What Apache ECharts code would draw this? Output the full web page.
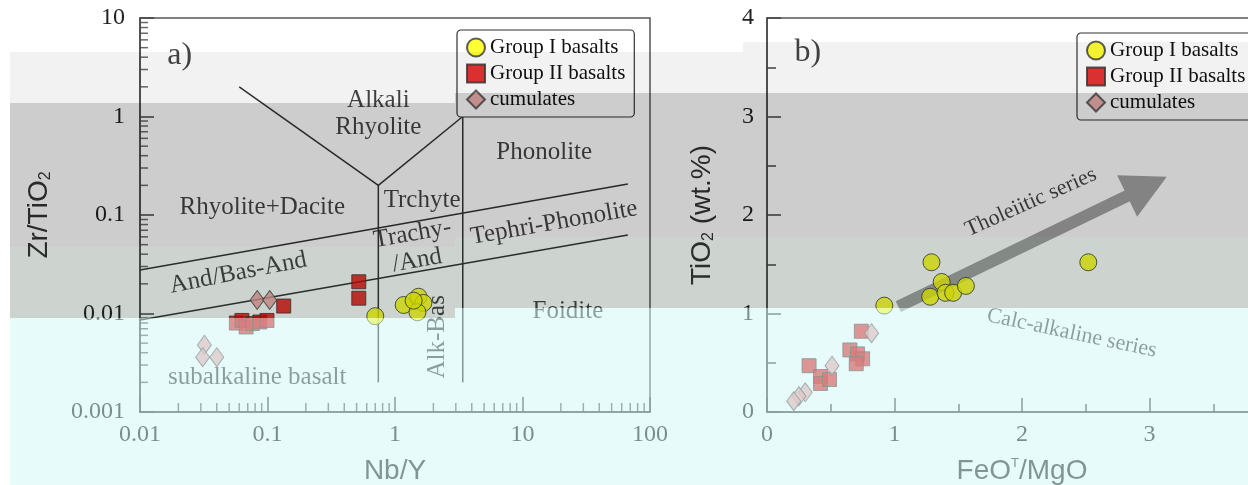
<!DOCTYPE html>
<html><head><meta charset="utf-8">
<script src="https://cdn.jsdelivr.net/npm/echarts@6/dist/echarts.min.js"></script>
<style>html,body{margin:0;padding:0;background:#fff}#c{width:1248px;height:485px}</style>
</head><body><div id="c"></div>
<script>
// ================= DATA =================
// Panel a: Zr/TiO2 vs Nb/Y (log-log)
const groupI_a_x  = [0.70, 1.17, 1.53, 1.67, 1.50, 1.40];
const groupI_a_y  = [0.0094, 0.0122, 0.0148, 0.0128, 0.0103, 0.0135];
const groupII_a_x = [0.52, 0.52, 0.134, 0.057, 0.063, 0.068, 0.076, 0.087, 0.099];
const groupII_a_y = [0.0210, 0.0143, 0.0119, 0.0080, 0.0085, 0.0073, 0.0079, 0.0082, 0.0085];
const cumul_a_x   = [0.083, 0.104, 0.032, 0.031, 0.040];
const cumul_a_y   = [0.0137, 0.0137, 0.0048, 0.0036, 0.0036];

// Panel b: TiO2 vs FeOT/MgO
const groupI_b_x  = [1.29, 1.37, 1.28, 1.40, 1.46, 1.56, 0.92, 2.52];
const groupI_b_y  = [1.52, 1.32, 1.17, 1.21, 1.21, 1.28, 1.08, 1.52];
const groupII_b_x = [0.74, 0.65, 0.71, 0.75, 0.70, 0.33, 0.42, 0.42, 0.49];
const groupII_b_y = [0.82, 0.63, 0.59, 0.54, 0.49, 0.47, 0.36, 0.29, 0.33];
const cumul_b_x   = [0.82, 0.51, 0.30, 0.25, 0.21];
const cumul_b_y   = [0.80, 0.47, 0.20, 0.16, 0.11];

// Field boundaries of panel a (segments, in Nb/Y , Zr/TiO2)
const fieldBoundaries = [
  [[0.01, 0.0277], [67, 0.206]],
  [[0.01, 0.0086], [67, 0.0627]],
  [[0.06, 2.0], [0.74, 0.20]],
  [[0.74, 0.20], [3.4, 1.0]],
  [[0.74, 0.20], [0.74, 0.002]],
  [[3.4, 1.0], [3.4, 0.002]]
];

// Field names panel a
const fieldText_a = ['a)', 'Alkali\nRhyolite', 'Rhyolite+Dacite', 'Trchyte', 'Phonolite', 'Trachy-\n/And',
                     'Tephri-Phonolite', 'And/Bas-And', 'subalkaline basalt', 'Alk-Bas', 'Foidite'];
const fieldText_a_x = [0.0205, 0.74, 0.091, 1.63, 14.8, 1.43, 17.7, 0.059, 0.083, 2.17, 22.7];
const fieldText_a_y = [4.2, 1.07, 0.118, 0.142, 0.436, 0.047, 0.083, 0.0258, 0.00226, 0.0058, 0.0104];

// Trend annotations panel b
const trendText_b   = ['b)', 'Tholeiitic series', 'Calc-alkaline series'];
const trendText_b_x = [0.32, 2.07, 2.39];
const trendText_b_y = [3.65, 2.13, 0.80];
const tholeiiticArrow = [[1.03, 1.07], [2.98, 2.29]];

// Axis ticks
const logDecadesX = [0.01, 0.1, 1, 10];
const logDecadesY = [0.001, 0.01, 0.1, 1];
const minorMultipliers = [2, 3, 4, 5, 6, 7, 8, 9];
const legendNames = ['Group I basalts', 'Group II basalts', 'cumulates'];

// ================= CHART =================
const SERIF = 'Liberation Serif, Times New Roman, serif';
const SANS = 'Liberation Sans, Arial, sans-serif';
const zip = (xs, ys) => xs.map((x, i) => [x, ys[i]]);
const minorVals = decs => { const o = []; decs.forEach(d => minorMultipliers.forEach(m => o.push(+(d * m).toPrecision(2)))); return o; };
const logFmt = v => String(parseFloat(Number(v).toPrecision(1)));
const rotation = {'Trachy-\n/And': 10, 'Tephri-Phonolite': 10, 'And/Bas-And': 11, 'Alk-Bas': 90,
                  'Tholeiitic series': 24, 'Calc-alkaline series': -12};
const fontSizeOf = {'a)': 32, 'b)': 32, 'Tholeiitic series': 22, 'Calc-alkaline series': 22};

const styleI  = {symbol: 'circle', symbolSize: 17, itemStyle: {color: '#ffff00', borderColor: '#333', borderWidth: 1}};
const styleII = {symbol: 'rect', symbolSize: 14, itemStyle: {color: '#e00000', borderColor: '#333', borderWidth: 1}};
const styleC  = {symbol: 'diamond', symbolSize: [14, 19], itemStyle: {color: '#ee9c9c', borderColor: '#444', borderWidth: 1}};

const axisLineStyle = {lineStyle: {color: '#444', width: 1.5}};
const tickLabel = (m) => ({margin: m, fontFamily: SERIF, fontSize: 24, color: '#222', showMinLabel: true, showMaxLabel: true});
const nameStyle = {fontFamily: SANS, fontSize: 28, color: '#333',
  rich: {sub: {fontFamily: SANS, fontSize: 16, verticalAlign: 'bottom', padding: [14, 0, 0, 0]},
         sup: {fontFamily: SANS, fontSize: 13, verticalAlign: 'top', padding: [0, 0, 14, 0]}}};

function textSeries(texts, xs, ys, xi, yi) {
  return {
    type: 'scatter', xAxisIndex: xi, yAxisIndex: yi, symbolSize: 0, silent: true, z: 5, clip: false,
    data: texts.map((t, i) => ({
      name: t, value: [xs[i], ys[i]],
      label: {show: true, position: 'inside', formatter: '{b}', rotate: rotation[t] || 0,
              fontFamily: SERIF, fontSize: fontSizeOf[t] || 25, lineHeight: 27, color: '#151515', align: 'center'}
    }))
  };
}

const series = [];
// field boundaries
fieldBoundaries.forEach(seg => series.push({type: 'line', xAxisIndex: 0, yAxisIndex: 0, data: seg, symbol: 'none',
  silent: true, lineStyle: {color: '#333', width: 1.5}, z: 1, animation: false}));
// minor ticks panel a (log axes)
series.push({type: 'scatter', xAxisIndex: 0, yAxisIndex: 0, silent: true, clip: false, symbol: 'rect',
  symbolSize: [8, 1.5], symbolOffset: [4, 0], itemStyle: {color: '#444'},
  data: minorVals(logDecadesY).map(v => [logDecadesX[0], v])});
series.push({type: 'scatter', xAxisIndex: 0, yAxisIndex: 0, silent: true, clip: false, symbol: 'rect',
  symbolSize: [1.5, 9], symbolOffset: [0, -4.5], itemStyle: {color: '#444'},
  data: minorVals(logDecadesX).map(v => [v, logDecadesY[0]])});
// arrow panel b
series.push({type: 'scatter', xAxisIndex: 1, yAxisIndex: 1, data: [], silent: true,
  markLine: {silent: true, animation: false, symbol: ['none', 'triangle'], symbolSize: [46, 44],
    lineStyle: {color: '#a3a3a3', width: 12, type: 'solid'}, label: {show: false},
    emphasis: {disabled: true},
    data: [[{coord: tholeiiticArrow[0]}, {coord: tholeiiticArrow[1]}]]}});
// text
series.push(textSeries(fieldText_a, fieldText_a_x, fieldText_a_y, 0, 0));
series.push(textSeries(trendText_b, trendText_b_x, trendText_b_y, 1, 1));
// data
[[0, groupII_a_x, groupII_a_y, cumul_a_x, cumul_a_y, groupI_a_x, groupI_a_y],
 [1, groupII_b_x, groupII_b_y, cumul_b_x, cumul_b_y, groupI_b_x, groupI_b_y]].forEach(p => {
  const g = p[0];
  series.push(Object.assign({type: 'scatter', name: legendNames[1], xAxisIndex: g, yAxisIndex: g, z: 6, data: zip(p[1], p[2])}, styleII));
  series.push(Object.assign({type: 'scatter', name: legendNames[2], xAxisIndex: g, yAxisIndex: g, z: 7, data: zip(p[3], p[4])}, styleC));
  series.push(Object.assign({type: 'scatter', name: legendNames[0], xAxisIndex: g, yAxisIndex: g, z: 8, data: zip(p[5], p[6])}, styleI));
});

// glitch-like colour bands of the reference (decorative overlays)
const bandFill = {light: 'rgba(0,0,0,0.05)', gray: 'rgba(0,0,0,0.195)', green: 'rgba(5,40,15,0.2)', cyan: 'rgba(210,248,248,0.5)'};
const bandRects = [[10, 455, 52, 103, 'light'], [10, 455, 103, 247, 'gray'], [10, 455, 247, 318, 'green'], [10, 455, 318, 485, 'cyan'],
  [455, 743, 52, 93, 'light'], [743, 1248, 42, 93, 'light'], [455, 1248, 93, 237, 'gray'], [455, 1248, 237, 308, 'green'], [455, 1248, 308, 485, 'cyan']];

const legendCommon = {orient: 'vertical', data: legendNames, itemWidth: 18, itemHeight: 18, itemGap: 5,
  padding: [7, 9], borderColor: '#333', borderWidth: 1.2, borderRadius: 4, backgroundColor: '#fff',
  textStyle: {fontFamily: SERIF, fontSize: 21, color: '#111'}, selectedMode: false};

const option = {
  animation: false,
  backgroundColor: '#fff',
  grid: [
    {left: 140, top: 18, width: 510, height: 394, show: true, borderColor: '#555', borderWidth: 1.5,
     backgroundColor: 'transparent', outerBoundsMode: 'none', containLabel: false},
    {left: 767, top: 18, width: 510, height: 394, show: true, borderColor: '#555', borderWidth: 1.5,
     backgroundColor: 'transparent', outerBoundsMode: 'none', containLabel: false}
  ],
  legend: [Object.assign({left: 457, top: 30}, legendCommon), Object.assign({left: 1077, top: 33}, legendCommon)],
  xAxis: [
    {type: 'log', logBase: 10, gridIndex: 0, min: 0.01, max: 100, name: 'Nb/Y', nameLocation: 'middle', nameGap: 45,
     nameTextStyle: nameStyle, axisLine: axisLineStyle, splitLine: {show: false},
     axisTick: {inside: true, length: 15, lineStyle: {color: '#444', width: 1.5}},
     axisLabel: Object.assign(tickLabel(11), {formatter: logFmt})},
    {type: 'value', gridIndex: 1, min: 0, max: 4, interval: 1, name: 'FeO{sup|T}/MgO', nameLocation: 'middle', nameGap: 45,
     nameTextStyle: nameStyle, axisLine: axisLineStyle, splitLine: {show: false},
     axisTick: {inside: true, length: 14, lineStyle: {color: '#444', width: 1.5}},
     minorTick: {show: true, splitNumber: 2, length: 8, lineStyle: {color: '#444', width: 1.5}},
     axisLabel: tickLabel(11)}
  ],
  yAxis: [
    {type: 'log', logBase: 10, gridIndex: 0, min: 0.001, max: 10, name: 'Zr/TiO{sub|2}', nameLocation: 'middle', nameGap: 86,
     nameTextStyle: nameStyle, axisLine: axisLineStyle, splitLine: {show: false},
     axisTick: {inside: true, length: 14, lineStyle: {color: '#444', width: 1.5}},
     axisLabel: Object.assign(tickLabel(15), {formatter: logFmt})},
    {type: 'value', gridIndex: 1, min: 0, max: 4, interval: 1, name: 'TiO{sub|2} (wt.%)', nameLocation: 'middle', nameGap: 50,
     nameTextStyle: nameStyle, axisLine: axisLineStyle, splitLine: {show: false},
     axisTick: {inside: true, length: 14, lineStyle: {color: '#444', width: 1.5}},
     minorTick: {show: true, splitNumber: 2, length: 9, lineStyle: {color: '#444', width: 1.5}},
     axisLabel: tickLabel(13)}
  ],
  graphic: bandRects.map(b => ({type: 'rect', silent: true, z: 100,
    shape: {x: b[0], y: b[2], width: b[1] - b[0], height: b[3] - b[2]}, style: {fill: bandFill[b[4]]}})),
  series: series
};

const chart = echarts.init(document.getElementById('c'), null, {renderer: 'canvas'});
chart.setOption(option);
</script>
</body></html>
